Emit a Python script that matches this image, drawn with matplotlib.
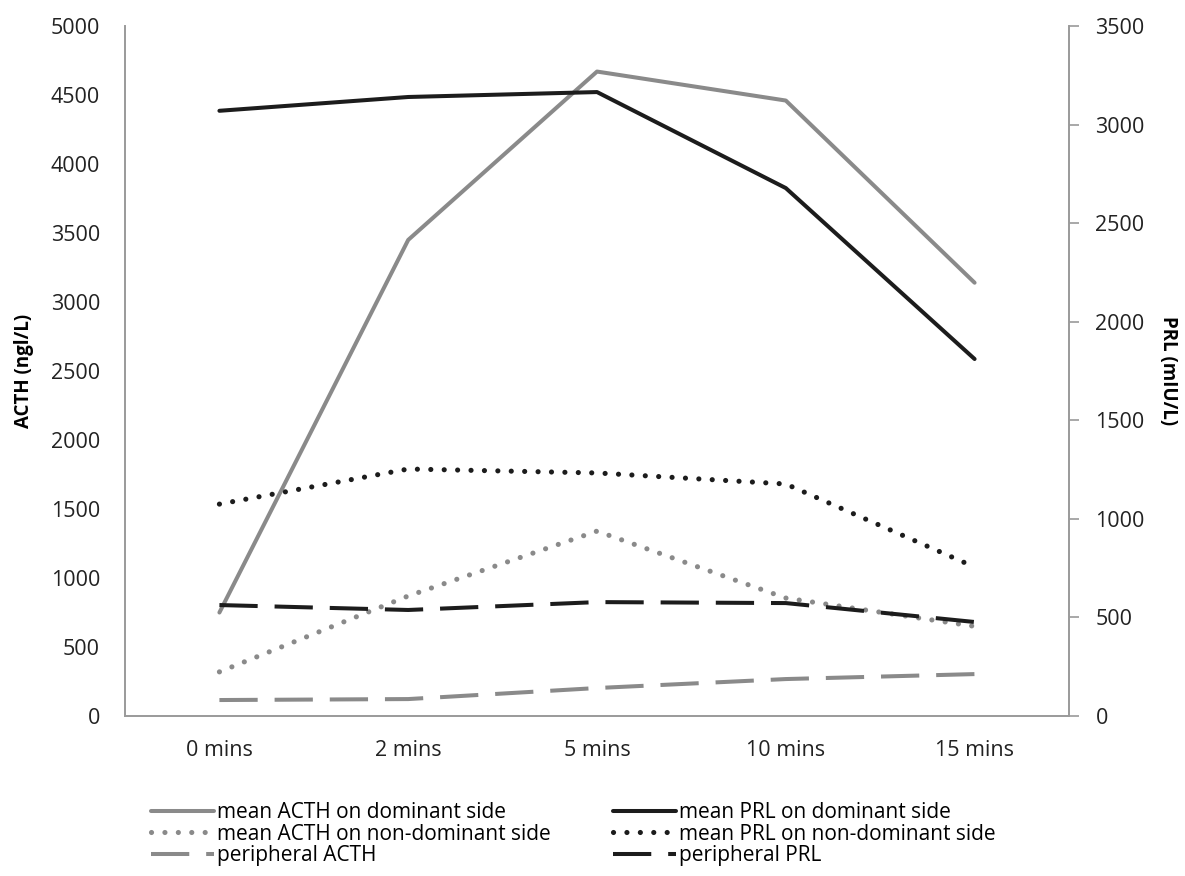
import matplotlib
matplotlib.use("Agg")
import matplotlib.pyplot as plt

plt.rcParams['font.family'] = ['Open Sans', 'DejaVu Sans']

timepoints = ['0 mins', '2 mins', '5 mins', '10 mins', '15 mins']

# ACTH (ng/L), left axis
acth_dominant = [750, 3450, 4670, 4460, 3140]
acth_non_dominant = [320, 870, 1340, 855, 650]
acth_peripheral = [116, 123, 203, 268, 304]

# PRL (mIU/L), right axis
prl_dominant = [3070, 3140, 3165, 2678, 1811]
prl_non_dominant = [1075, 1253, 1233, 1177, 756]
prl_peripheral = [563, 538, 578, 573, 477]

GREY = '#8a8a8a'
BLACK = '#1c1c1c'
SPINE = '#9a9a9a'
LW = 2.9
DOT_LW = 3.7

dotted = (0, (0.01, 2.6))
dashed = (0, (9.5, 4.2))

fig = plt.figure(figsize=(11.85, 8.76), dpi=100)
ax = fig.add_axes([0.1055, 0.1826, 0.7966, 0.7877])
ax2 = ax.twinx()

x = list(range(len(timepoints)))

l1, = ax.plot(x, acth_dominant, color=GREY, lw=LW, solid_capstyle='round',
              label='mean ACTH on dominant side')
l3, = ax.plot(x, acth_non_dominant, color=GREY, lw=DOT_LW, linestyle=dotted,
              dash_capstyle='round', label='mean ACTH on non-dominant side')
l5, = ax.plot(x, acth_peripheral, color=GREY, lw=LW, linestyle=dashed,
              label='peripheral ACTH')

l2, = ax2.plot(x, prl_dominant, color=BLACK, lw=LW, solid_capstyle='round',
               label='mean PRL on dominant side')
l4, = ax2.plot(x, prl_non_dominant, color=BLACK, lw=DOT_LW, linestyle=dotted,
               dash_capstyle='round', label='mean PRL on non-dominant side')
l6, = ax2.plot(x, prl_peripheral, color=BLACK, lw=LW, linestyle=dashed,
               label='peripheral PRL')

ax.set_xlim(-0.5, 4.5)
ax.set_ylim(0, 5000)
ax2.set_ylim(0, 3500)
ax.set_yticks(range(0, 5001, 500))
ax2.set_yticks(range(0, 3501, 500))
ax.set_xticks(x)
ax.set_xticklabels(timepoints)

for a in (ax, ax2):
    a.spines['top'].set_visible(False)
    for s in a.spines.values():
        s.set_color(SPINE)
        s.set_linewidth(1.4)

ax.spines['right'].set_visible(False)
ax2.spines['left'].set_visible(False)
ax2.spines['bottom'].set_visible(False)

ax.tick_params(axis='y', length=0, pad=18, labelsize=15.5, labelcolor='#222222')
ax.tick_params(axis='x', length=0, pad=17, labelsize=15.5, labelcolor='#222222')
ax2.tick_params(axis='y', length=7, width=1.2, color=SPINE, pad=12,
                labelsize=15.5, labelcolor='#222222')

ax.set_ylabel('ACTH (ngl/L)', fontsize=13.5, fontweight='bold', labelpad=12)
ax2.set_ylabel('PRL (mIU/L)', fontsize=13.5, fontweight='bold',
               rotation=270, labelpad=24)

# column-wise fill: ACTH series on the left, PRL series on the right
handles = [l1, l3, l5, l2, l4, l6]
leg = fig.legend(handles, [h.get_label() for h in handles], ncol=2,
                 loc='upper left', bbox_to_anchor=(0.119, 0.096),
                 frameon=False, fontsize=15, handlelength=3.0,
                 handletextpad=0.15, columnspacing=3.0, labelspacing=0.02,
                 borderpad=0)

fig.savefig('out.png', dpi=100)
